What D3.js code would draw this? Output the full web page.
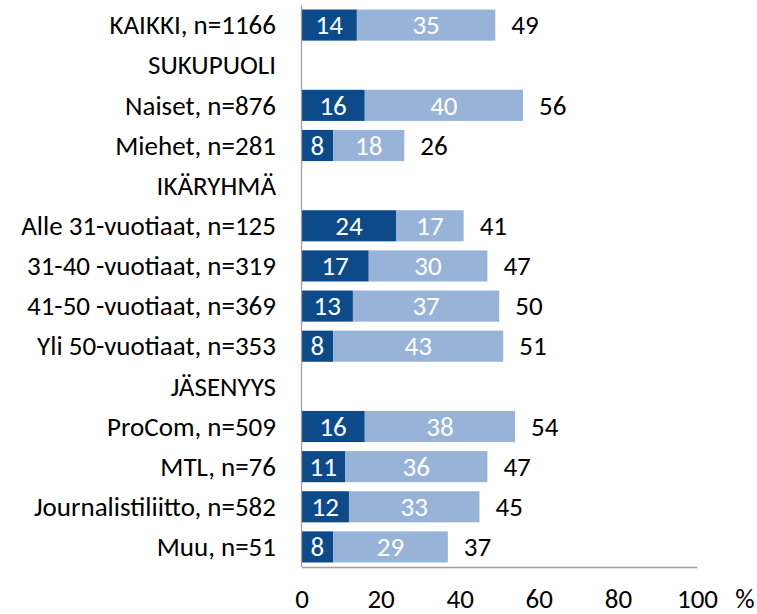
<!DOCTYPE html>
<html>
<head>
<meta charset="utf-8">
<script src="https://cdn.jsdelivr.net/npm/d3@7"></script>
<style>
  body { margin: 0; background: #fff; }
  svg text { font-family: Carlito, Lato, "Open Sans", sans-serif; }
</style>
</head>
<body>
<svg id="chart" width="757" height="614"></svg>
<script>
// rows of the chart, headers have no values
var rowLabels = ['KAIKKI, n=1166', 'SUKUPUOLI', 'Naiset, n=876', 'Miehet, n=281', 'IKÄRYHMÄ',
  'Alle 31-vuotiaat, n=125', '31-40 -vuotiaat, n=319', '41-50 -vuotiaat, n=369', 'Yli 50-vuotiaat, n=353',
  'JÄSENYYS', 'ProCom, n=509', 'MTL, n=76', 'Journalistiliitto, n=582', 'Muu, n=51'];
var darkValues  = [14, null, 16, 8, null, 24, 17, 13, 8, null, 16, 11, 12, 8];
var lightValues = [35, null, 40, 18, null, 17, 30, 37, 43, null, 38, 36, 33, 29];
var totalValues = [49, null, 56, 26, null, 41, 47, 50, 51, null, 54, 47, 45, 37];
var xTicks = [0, 20, 40, 60, 80, 100];

var darkColor = '#0c4a8a';
var lightColor = '#97b4d8';
var labelSize = '27px';
var numSize = '27px';

var svg = d3.select('#chart');

var xScale = d3.scaleLinear().domain([0, 100]).range([301.5, 697]);
var yScale = d3.scaleBand().domain(rowLabels).range([5, 567])
  .paddingInner(0.225).paddingOuter(0.1125);

var rows = rowLabels.map(function(lab, i) {
  return { label: lab, dark: darkValues[i], light: lightValues[i], total: totalValues[i] };
});
var dataRows = rows.filter(function(d) { return d.dark != null; });

function midY(d) { return yScale(d.label) + yScale.bandwidth() / 2; }

// dark segment
svg.selectAll('.dark')
  .data(dataRows)
  .enter()
  .append('rect')
  .attr('class', 'dark')
  .attr('x', xScale(0))
  .attr('y', function(d) { return yScale(d.label); })
  .attr('width', function(d) { return xScale(d.dark) - xScale(0); })
  .attr('height', yScale.bandwidth())
  .style('fill', darkColor);

// light segment
svg.selectAll('.light')
  .data(dataRows)
  .enter()
  .append('rect')
  .attr('class', 'light')
  .attr('x', function(d) { return xScale(d.dark); })
  .attr('y', function(d) { return yScale(d.label); })
  .attr('width', function(d) { return xScale(d.dark + d.light) - xScale(d.dark); })
  .attr('height', yScale.bandwidth())
  .style('fill', lightColor);

// value labels
svg.selectAll('.darkLabel')
  .data(dataRows)
  .enter()
  .append('text')
  .attr('x', function(d) { return (xScale(0) + xScale(d.dark)) / 2; })
  .attr('y', midY)
  .attr('dy', '0.34em')
  .attr('text-anchor', 'middle')
  .style('fill', '#fff')
  .style('font-size', numSize)
  .text(function(d) { return d.dark; });

svg.selectAll('.lightLabel')
  .data(dataRows)
  .enter()
  .append('text')
  .attr('x', function(d) { return (xScale(d.dark) + xScale(d.dark + d.light)) / 2; })
  .attr('y', midY)
  .attr('dy', '0.34em')
  .attr('text-anchor', 'middle')
  .style('fill', '#fff')
  .style('font-size', numSize)
  .text(function(d) { return d.light; });

svg.selectAll('.totalLabel')
  .data(dataRows)
  .enter()
  .append('text')
  .attr('x', function(d) { return xScale(d.dark + d.light) + 16; })
  .attr('y', midY)
  .attr('dy', '0.34em')
  .style('fill', '#000')
  .style('font-size', numSize)
  .text(function(d) { return d.total; });

// row labels
svg.selectAll('.rowLabel')
  .data(rows)
  .enter()
  .append('text')
  .attr('x', 276)
  .attr('y', midY)
  .attr('dy', '0.34em')
  .attr('text-anchor', 'end')
  .style('fill', '#000')
  .style('font-size', labelSize)
  .text(function(d) { return d.label; });

// axes
svg.append('line')
  .attr('x1', xScale(0)).attr('x2', xScale(0))
  .attr('y1', 5).attr('y2', 567)
  .style('stroke', '#a0a0a0').style('stroke-width', 1.3);

var xAxis = d3.axisBottom(xScale).tickValues(xTicks).tickSize(0).tickPadding(0);
var gx = svg.append('g')
  .attr('transform', 'translate(0,567)')
  .call(xAxis);
gx.attr('font-size', null).attr('font-family', null);
gx.select('.domain').style('stroke', '#a0a0a0').style('stroke-width', 1.3);
gx.selectAll('text')
  .attr('y', 32)
  .attr('dy', '0.34em')
  .style('font-size', numSize)
  .style('fill', '#000');

svg.append('text')
  .attr('x', 745)
  .attr('y', 599)
  .attr('dy', '0.34em')
  .attr('text-anchor', 'middle')
  .style('font-size', numSize)
  .text('%');
</script>
</body>
</html>
